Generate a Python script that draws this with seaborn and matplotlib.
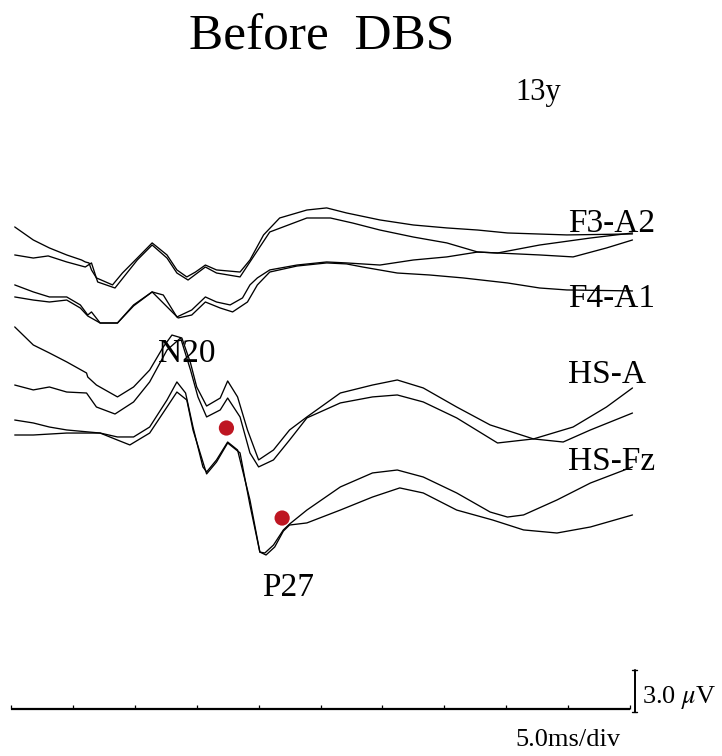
import numpy as np
import pandas as pd
import matplotlib
matplotlib.use("Agg")
import matplotlib.pyplot as plt
import seaborn as sns

# ---- SEP traces (time in ms, amplitude in uV, two superimposed runs per derivation) ----
f3a2_t1 = [0.3, 1.8, 3.1, 4.5, 5.7, 6.0, 6.3, 6.5, 6.9, 8.2, 9.0, 10.2, 11.4, 12.6, 13.4, 14.2, 14.9, 15.7,
           16.6, 18.5, 19.3, 20.4, 21.7, 23.9, 25.5, 27.1, 29.8, 32.5, 35.2, 37.7, 40.1, 44.9, 50.2]
f3a2_v1 = [1.93, 1.0, 0.43, -0.07, -0.43, -0.57, -0.64, -1.14, -1.71, -2.21, -1.36, -0.29, 0.79, -0.07, -1.14,
           -1.64, -1.29, -0.79, -1.14, -1.29, -0.43, 1.36, 2.57, 3.14, 3.29, 2.93, 2.43, 2.07, 1.86, 1.71, 1.5,
           1.36, 1.43]
f3a2_t2 = [0.3, 1.8, 3.0, 4.5, 6.0, 6.5, 7.0, 8.4, 10.2, 11.4, 12.6, 13.4, 14.3, 15.7, 16.6, 18.5, 19.3, 20.9,
           23.9, 25.8, 27.6, 29.8, 32.5, 35.2, 37.7, 39.3, 42.7, 45.4, 48.1, 50.2]
f3a2_v2 = [-0.07, -0.29, -0.14, -0.57, -0.93, -0.64, -2.0, -2.43, -0.43, 0.64, -0.29, -1.36, -1.86, -0.93,
           -1.36, -1.64, -0.57, 1.57, 2.57, 2.57, 2.21, 1.71, 1.21, 0.79, 0.14, 0.07, -0.07, -0.21, 0.43, 1.0]

f4a1_t1 = [0.3, 1.8, 3.1, 4.5, 5.6, 6.2, 6.5, 7.2, 8.6, 9.9, 11.4, 12.3, 13.4, 14.6, 15.7, 16.6, 17.7, 18.7,
           19.3, 19.9, 20.9, 23.1, 25.5, 27.1, 29.8, 32.5, 35.2, 37.7, 39.3, 42.7, 46.8, 50.2]
f4a1_v1 = [1.29, 0.79, 0.43, 0.43, -0.14, -0.86, -0.64, -1.43, -1.43, -0.14, 0.79, 0.57, -1.0, -0.5, 0.43,
           0.07, -0.14, 0.36, 1.29, 1.79, 2.36, 2.71, 2.93, 2.86, 2.71, 3.07, 3.29, 3.64, 3.57, 4.14, 4.64, 5.0]
f4a1_t2 = [0.3, 1.8, 3.1, 4.5, 5.6, 6.2, 7.2, 8.6, 9.9, 11.4, 13.5, 14.6, 15.7, 16.9, 17.9, 19.1, 19.9, 20.9,
           23.1, 25.5, 27.1, 28.4, 31.2, 33.8, 36.5, 40.1, 42.7, 44.9, 50.2]
f4a1_v2 = [0.43, 0.21, 0.07, 0.21, -0.36, -0.93, -1.43, -1.43, -0.21, 0.79, -1.07, -0.86, 0.07, -0.36, -0.64,
           0.07, 1.29, 2.21, 2.64, 2.86, 2.79, 2.57, 2.14, 2.0, 1.79, 1.43, 1.07, 0.93, 0.86]

hsa_t1 = [0.3, 1.8, 3.1, 4.5, 6.1, 6.2, 6.9, 8.6, 9.9, 11.2, 12.3, 13.0, 13.8, 14.5, 15.0, 15.8, 16.9, 17.5,
          18.3, 19.1, 20.0, 21.2, 22.5, 23.9, 26.6, 29.2, 31.2, 33.3, 36.0, 38.7, 42.2, 44.6, 46.8, 50.2]
hsa_v1 = [4.29, 3.0, 2.43, 1.79, 1.0, 0.71, 0.14, -0.71, 0.0, 1.21, 2.86, 3.71, 3.5, 1.71, 0.0, -1.36, -0.79,
          0.43, -0.71, -3.07, -5.21, -4.5, -3.07, -2.14, -0.43, 0.14, 0.5, -0.07, -1.43, -2.71, -3.71, -3.93,
          -3.07, -1.86]
hsa_t2 = [0.3, 1.8, 3.1, 4.5, 6.1, 6.9, 8.4, 9.9, 11.2, 12.6, 13.7, 14.5, 15.1, 15.8, 16.9, 17.5, 18.5, 19.3,
          20.0, 21.2, 22.5, 23.9, 26.6, 29.2, 31.2, 33.3, 36.0, 39.3, 42.2, 45.4, 48.1, 50.2]
hsa_v2 = [0.14, -0.21, 0.0, -0.36, -0.43, -1.43, -1.93, -1.07, 0.36, 2.64, 3.5, 1.21, -0.71, -2.14, -1.64,
          -0.79, -2.14, -4.71, -5.71, -5.21, -3.79, -2.21, -1.14, -0.71, -0.57, -1.07, -2.21, -4.0, -3.71,
          -2.86, -1.43, -0.07]

hsfz_t1 = [0.3, 1.8, 3.1, 4.5, 7.2, 8.6, 9.9, 11.2, 12.6, 13.4, 14.1, 14.7, 15.5, 15.8, 16.6, 17.5, 18.3, 18.7,
           19.3, 20.1, 20.5, 21.2, 22.0, 22.5, 23.9, 26.6, 29.2, 31.2, 33.3, 36.0, 38.7, 40.1, 41.4, 44.1, 46.8,
           50.2]
hsfz_v1 = [1.14, 0.93, 0.64, 0.43, 0.21, -0.07, -0.07, 0.64, 2.57, 3.86, 3.07, 0.64, -2.21, -2.57, -1.71,
           -0.43, -1.0, -2.43, -4.57, -8.29, -8.36, -7.79, -6.71, -6.29, -5.29, -3.64, -2.64, -2.43, -2.93,
           -4.07, -5.43, -5.79, -5.64, -4.57, -3.36, -2.21]
hsfz_t2 = [0.3, 1.8, 4.5, 7.2, 8.6, 9.6, 11.2, 12.6, 13.4, 14.2, 14.7, 15.8, 16.6, 17.5, 18.5, 19.3, 20.1,
           20.6, 21.3, 22.0, 22.5, 23.9, 26.6, 29.2, 31.4, 33.3, 36.0, 38.9, 41.4, 44.1, 46.8, 50.2]
hsfz_v2 = [0.07, 0.07, 0.21, 0.21, -0.29, -0.64, 0.21, 2.07, 3.14, 2.57, 0.43, -2.71, -1.86, -0.5, -1.21,
           -4.93, -8.29, -8.5, -7.93, -6.79, -6.36, -6.21, -5.29, -4.36, -3.71, -4.07, -5.29, -6.0, -6.71,
           -6.93, -6.5, -5.64]

channels = ["F3-A2", "F4-A1", "HS-A", "HS-Fz"]
runs = {
    "F3-A2": [(f3a2_t1, f3a2_v1), (f3a2_t2, f3a2_v2)],
    "F4-A1": [(f4a1_t1, f4a1_v1), (f4a1_t2, f4a1_v2)],
    "HS-A": [(hsa_t1, hsa_v1), (hsa_t2, hsa_v2)],
    "HS-Fz": [(hsfz_t1, hsfz_v1), (hsfz_t2, hsfz_v2)],
}

# marked peaks on the HS-Fz derivation (ms, uV)
peak_ms = [17.4, 21.9]
peak_uv = [0.57, -5.86]

tick_ms = [0, 5, 10, 15, 20, 25, 30, 35, 40, 45, 50]
scale_uv = 3.0

# ---- layout ----
offset = {"F3-A2": 32.5, "F4-A1": 29.0, "HS-A": 23.0, "HS-Fz": 19.5}
label_base = {"F3-A2": 34.07, "F4-A1": 28.71, "HS-A": 23.29, "HS-Fz": 17.07}

rows = []
for ch in channels:
    for k, (t, v) in enumerate(runs[ch]):
        for ti, vi in zip(t, v):
            rows.append({"ms": ti, "y": vi + offset[ch], "trace": f"{ch}-{k}"})
df = pd.DataFrame(rows)
dots = pd.DataFrame({"ms": peak_ms, "y": np.array(peak_uv) + offset["HS-Fz"]})

sns.set_style("white")
plt.rcParams["font.family"] = ["Liberation Serif", "DejaVu Serif"]
plt.rcParams["mathtext.fontset"] = "stix"
plt.rcParams["text.color"] = "black"

fig = plt.figure(figsize=(7.22, 7.56), dpi=100)
ax = fig.add_axes([0, 0, 1, 1])

sns.lineplot(data=df, x="ms", y="y", units="trace", estimator=None, sort=False,
             color="black", lw=0.95, ax=ax)
sns.scatterplot(data=dots, x="ms", y="y", color="#BE1622", s=120, edgecolor="none", ax=ax, zorder=5)

# time axis with 5 ms divisions
ax.plot([tick_ms[0], tick_ms[-1]], [0, 0], color="black", lw=1.6, solid_capstyle="butt")
ax.vlines(tick_ms, 0, 0.25, color="black", lw=0.9)

# amplitude calibration bar
bar_x = 50.4
ax.plot([bar_x, bar_x], [-0.2, -0.2 + scale_uv], color="black", lw=1.4)
ax.plot([bar_x - 0.2, bar_x + 0.2], [-0.2, -0.2], color="black", lw=1.0)
ax.plot([bar_x - 0.2, bar_x + 0.2], [-0.2 + scale_uv, -0.2 + scale_uv], color="black", lw=1.0)

txt = dict(color="black", va="baseline")
ax.text(25.1, 47.07, "Before  DBS", fontsize=37, ha="center", **txt)
ax.text(40.7, 43.5, "13y", fontsize=22, ha="left", **txt)
for ch in channels:
    ax.text(45.0, label_base[ch], ch, fontsize=24, ha="left", **txt)
ax.text(14.2, 24.79, "N20", fontsize=24, ha="center", **txt)
ax.text(22.4, 8.07, "P27", fontsize=24, ha="center", **txt)
ax.text(50.97, 0.45, r"3.0 $\mu$V", fontsize=19, ha="left", **txt)
ax.text(40.7, -2.65, "5.0ms/div", fontsize=19, ha="left", **txt)

ax.set_xlim(-0.889, 57.43)
ax.set_ylim(-3.357, 50.64)
ax.axis("off")

fig.savefig("out.png", dpi=100)
